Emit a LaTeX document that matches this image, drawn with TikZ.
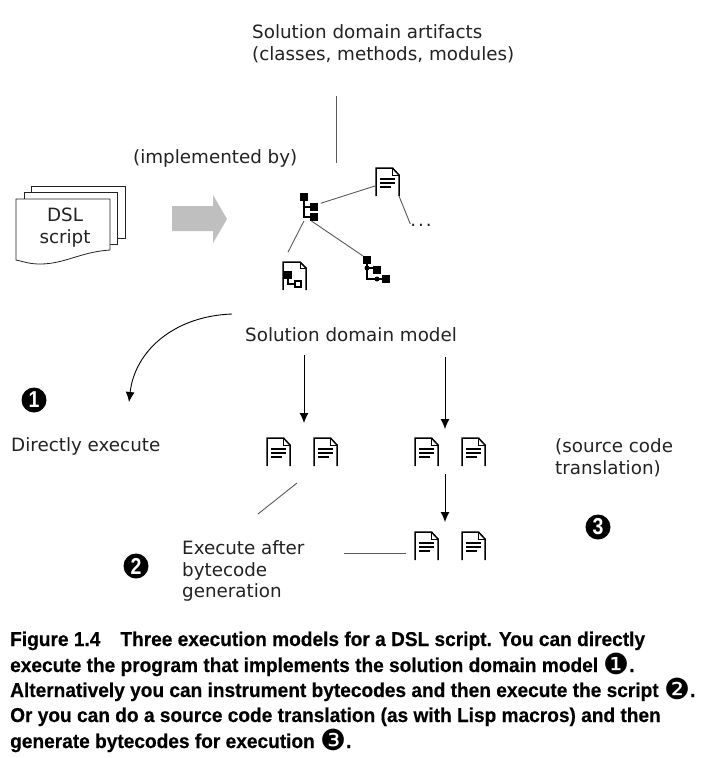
\documentclass[tikz,border=0pt]{standalone}
\usepackage{fontspec}
\setmainfont{DejaVu Sans}
\newfontfamily\capfont[FakeStretch=0.955,FakeBold=0.4]{Liberation Sans Bold}
\newfontfamily\numfont[FakeStretch=0.85]{Liberation Sans Bold}
\newfontfamily\dingfont{DejaVu Sans}
\usetikzlibrary{arrows.meta}

\definecolor{inkgray}{HTML}{222222}
\definecolor{wiregray}{HTML}{5A5A5A}

\tikzset{
	label/.style={anchor=base west, inner sep=0pt, text=inkgray, font=\fontsize{18.3}{22}\selectfont},
	caption/.style={anchor=base west, inner sep=0pt, text=black, font=\capfont\fontsize{20}{24}\selectfont},
	numdot/.style={circle, fill=black, text=white, inner sep=0pt, minimum size=25pt, font=\numfont\fontsize{23}{23}\selectfont},
	iconbox/.style={rectangle, inner sep=0pt, outer sep=0pt},
	wire/.style={draw=wiregray, line width=0.9pt},
	flow/.style={draw=black, line width=0.9pt, -{Latex[length=10pt,width=9pt]}},
	sheet/.style={draw=inkgray, fill=white, line width=0.8pt},
	docicon/.pic={
		\draw[line width=1.5pt, black] (-11.5,14) -- (-11.5,-14) -- (5,-14) -- (11.5,-7) -- (11.5,14);
		\draw[line width=0.9pt, black] (5,-14) -- (5,-7) -- (11.5,-7);
		\draw[line width=1.5pt, black] (-7.5,-3) -- (7.5,-3);
		\draw[line width=1.5pt, black] (-7.5,1) -- (7.5,1);
		\draw[line width=1.5pt, black] (-7.5,5) -- (3,5);
	},
}
\newcommand{\blob}[2]{\fill[black] (#1,#2) rectangle ++(8,8);}
\newcommand{\capding}[1]{{\dingfont\fontsize{29}{24}\selectfont\raisebox{-2pt}{#1}}}

\begin{document}
\begin{tikzpicture}[x=1pt,y=-1pt]
	\useasboundingbox[fill=white] (0,0) rectangle (712,758);

	% top labels
	\node[label] (artifacts) at (252,38) {Solution domain artifacts};
	\node[label] (artifactstwo) at (252,60) {(classes, methods, modules)};
	\node[label] (implemented) at (133,163) {(implemented by)};
	\coordinate (artifactsend) at (336,96);
	\coordinate (implementedend) at (336,163);
	\draw[wire] (artifactsend) -- (implementedend);

	% script pages
	\draw[sheet] (31,192) -- (31,186) -- (125,186) -- (125,238) -- (117,238);
	\draw[sheet] (24,199) -- (24,192) -- (117,192) -- (117,244) -- (110,244);
	\draw[sheet] (16,199) -- (110,199) -- (110,250) .. controls (80,252) and (65,264) .. (40,264) .. controls (30,264) and (25,262) .. (16,260) -- cycle;
	\node[iconbox, text=inkgray, align=center, font=\fontsize{18.3}{22}\selectfont] (script) at (65,228) {DSL\\script};

	% gray arrow
	\fill[black!25] (172,206) -- (213,206) -- (213,195) -- (227,219) -- (213,243) -- (213,231) -- (172,231) -- cycle;

	% model tree
	\node[iconbox, minimum width=18pt, minimum height=28pt] (treea) at (309,207) {};
	\draw[line width=1.4pt] (304,197) -- (304,217) -- (314,217);
	\draw[line width=1.4pt] (304,207) -- (314,207);
	\blob{300}{193}
	\blob{310}{203}
	\blob{310}{213}

	\node[iconbox, minimum width=23pt, minimum height=28pt] (doca) at (387.5,182) {};
	\pic at (387.5,182) {docicon};
	\node[iconbox, text=inkgray, font=\fontsize{18.3}{22}\selectfont] (dots) at (421,225) {.\hspace{2pt}.\hspace{2pt}.};

	\node[iconbox, minimum width=23pt, minimum height=28pt] (docb) at (294.5,276) {};
	\draw[line width=1.5pt, black] (283,290) -- (283,262) -- (300,262) -- (306,268) -- (306,290);
	\draw[line width=0.9pt] (300,262) -- (300,268) -- (306,268);
	\draw[line width=1.4pt] (288,275) -- (288,284) -- (295,284);
	\fill[black] (284,271) rectangle ++(8,8);
	\draw[line width=1.1pt] (295,281) rectangle ++(6,6);

	\node[iconbox, minimum width=27pt, minimum height=27pt] (treeb) at (376.5,269.5) {};
	\draw[line width=1.4pt] (367,260) -- (367,279) -- (386,279);
	\draw[line width=1.4pt] (367,268) -- (376,268);
	\blob{363}{256}
	\blob{373}{266}
	\blob{382}{275}
	\fill[black] (367,268) circle (2.5pt);
	\fill[black] (377,279) circle (2.5pt);

	\draw[wire, shorten >=1pt, shorten <=3pt] (treea) -- (doca);
	\draw[wire] (doca.south east) -- (dots.north west);
	\draw[wire, shorten >=11pt] (treea.250) -- (docb.north west);
	\draw[wire] (treea.280) -- (treeb.north west);

	\node[label] (model) at (245,341) {Solution domain model};

	% execution paths
	\coordinate (bendstart) at (232,314);
	\coordinate (bendend) at (129,402);
	\draw[flow] (bendstart) .. controls (175,316) and (135,350) .. (bendend);
	\node[numdot] (numone) at (34,400) {1};
	\node[label] (direct) at (11,451) {Directly execute};

	\coordinate (modelleft) at (304,355);
	\coordinate (modelright) at (445,357);
	\coordinate (docsleft) at (304,423);
	\coordinate (docsright) at (445,429);
	\draw[flow] (modelleft) -- (docsleft);
	\draw[flow] (modelright) -- (docsright);

	\foreach \name/\x/\y in {docc/278.5/452, docd/325.5/452, doce/426.5/452, docf/473.5/452, docg/426.5/546, doch/473.5/546}
		\pic (\name) at (\x,\y) {docicon};

	\coordinate (transfrom) at (445,474);
	\coordinate (transto) at (445,522);
	\draw[flow] (transfrom) -- (transto);

	\coordinate (byteend) at (297,483);
	\coordinate (bytestart) at (258,514);
	\draw[wire] (byteend) -- (bytestart);
	\coordinate (execfrom) at (344,553);
	\coordinate (execto) at (406,553);
	\draw[wire] (execfrom) -- (execto);

	\node[label] (source) at (555,452) {(source code};
	\node[label] (translation) at (555,474) {translation)};
	\node[numdot] (numthree) at (598,527) {3};

	\node[label] (exec) at (182,554) {Execute after};
	\node[label] (bytecode) at (182,576) {bytecode};
	\node[label] (generation) at (182,597) {generation};
	\node[numdot] (numtwo) at (136,566) {2};

	% caption
	\node[caption] (capa) at (10,646) {Figure 1.4\hspace{20pt}Three execution models for a DSL script. You can directly};
	\node[caption] (capb) at (10,672) {execute the program that implements the solution domain model \capding{❶}.};
	\node[caption] (capc) at (10,697) {Alternatively you can instrument bytecodes and then execute the script \capding{❷}.};
	\node[caption] (capd) at (10,722) {Or you can do a source code translation (as with Lisp macros) and then};
	\node[caption] (cape) at (10,748) {generate bytecodes for execution \capding{❸}.};
\end{tikzpicture}
\end{document}
